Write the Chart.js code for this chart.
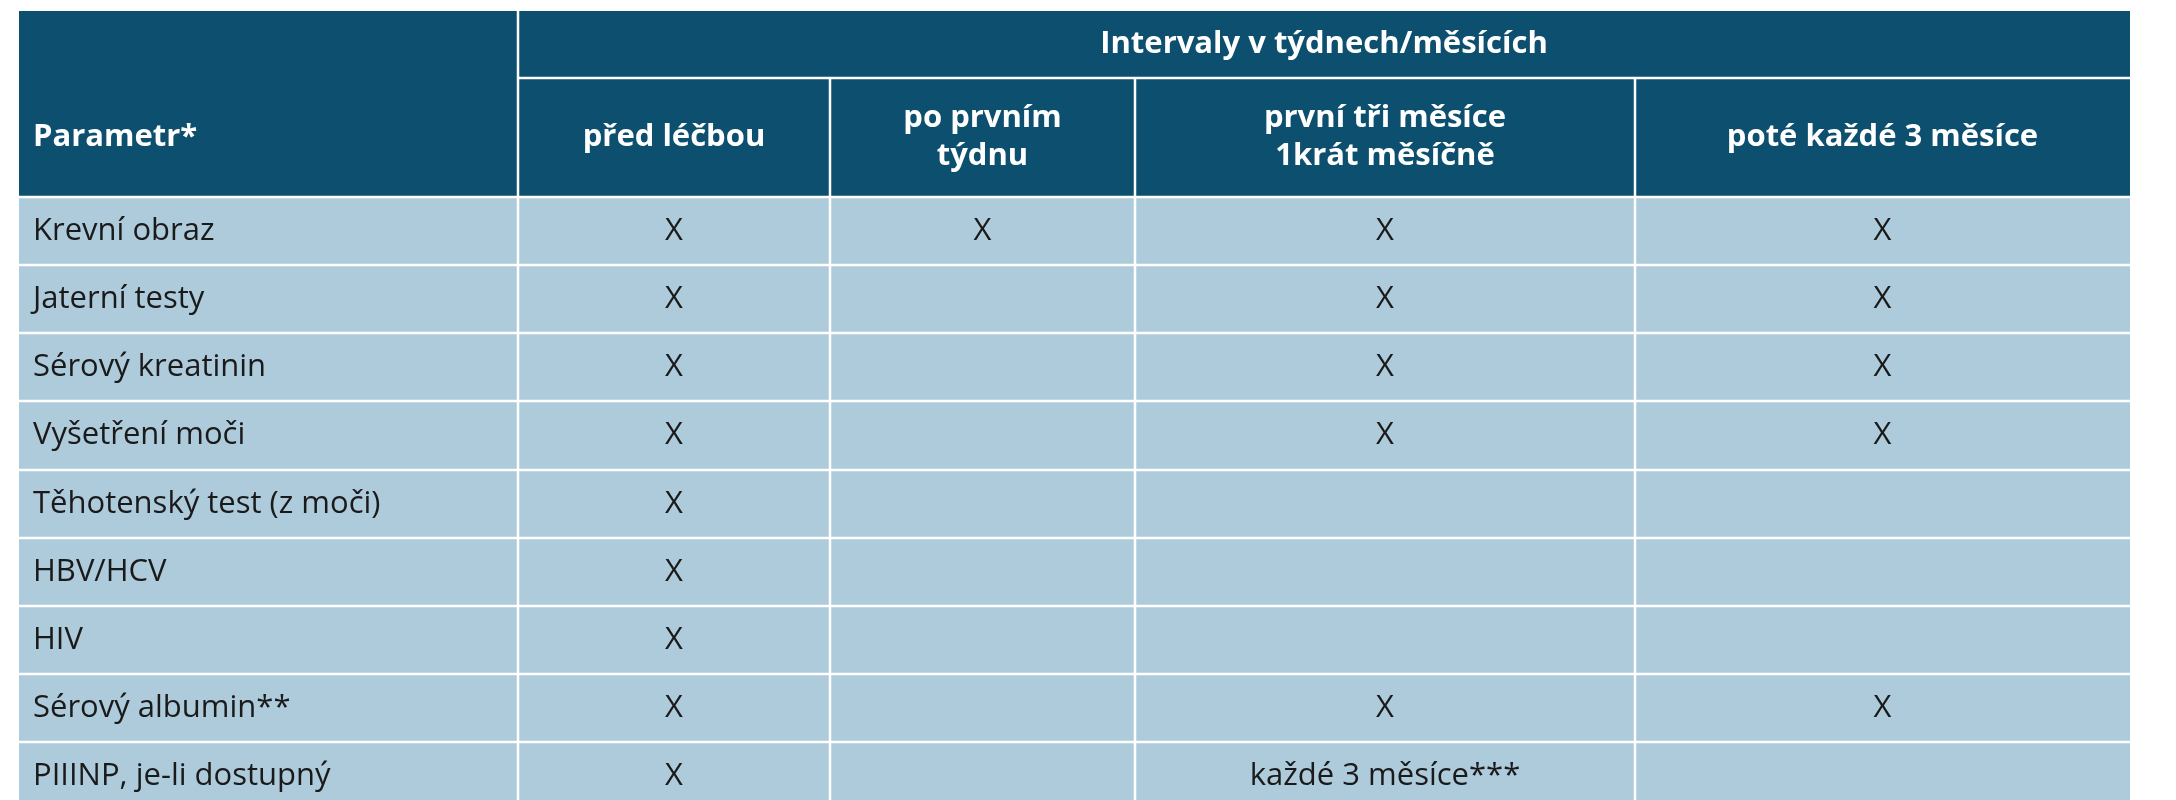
<!DOCTYPE html>
<html><head><meta charset="utf-8">
<script src="https://cdn.jsdelivr.net/npm/chart.js@4"></script>
<style>html,body{margin:0;padding:0;background:#fff;overflow:hidden}</style>
</head><body>
<canvas id="c" width="2176" height="800"></canvas>
<script>
const groupTitle = "Intervaly v týdnech/měsících";
const columnHeaders = ["Parametr*", "před léčbou", "po prvním\ntýdnu", "první tři měsíce\n1krát měsíčně", "poté každé 3 měsíce"];
const rowLabels = ["Krevní obraz","Jaterní testy","Sérový kreatinin","Vyšetření moči","Těhotenský test (z moči)","HBV/HCV","HIV","Sérový albumin**","PIIINP, je-li dostupný"];
const cellValues = [
  ["X","X","X","X"],
  ["X","","X","X"],
  ["X","","X","X"],
  ["X","","X","X"],
  ["X","","",""],
  ["X","","",""],
  ["X","","",""],
  ["X","","X","X"],
  ["X","","každé 3 měsíce***",""]
];
// layout (pixel-space units of the chart's scales)
const colEdges = [19, 518, 830, 1135, 1635, 2130];
const rowEdges = [11, 78, 197, 265, 333, 401, 470, 538, 606, 674, 742, 810];
const DARK = "#0d4f6e", LIGHT = "#aecbdc";

const tablePlugin = {
  id: "table",
  beforeDatasetsDraw(chart) {
    const ctx = chart.ctx, xs = chart.scales.x, ys = chart.scales.y;
    const X = v => xs.getPixelForValue(v), Y = v => ys.getPixelForValue(v);
    ctx.save();
    ctx.fillStyle = DARK;
    ctx.fillRect(X(colEdges[0]), Y(rowEdges[0]), X(colEdges[5]) - X(colEdges[0]), Y(rowEdges[2]) - Y(rowEdges[0]));
    ctx.fillStyle = LIGHT;
    ctx.fillRect(X(colEdges[0]), Y(rowEdges[2]), X(colEdges[5]) - X(colEdges[0]), Y(rowEdges[11]) - Y(rowEdges[2]));
    ctx.strokeStyle = "#ffffff"; ctx.lineWidth = 2.5;
    ctx.beginPath();
    ctx.moveTo(X(colEdges[1]), Y(rowEdges[0])); ctx.lineTo(X(colEdges[1]), Y(rowEdges[11]));
    for (let i = 2; i < 5; i++) { ctx.moveTo(X(colEdges[i]), Y(rowEdges[1])); ctx.lineTo(X(colEdges[i]), Y(rowEdges[11])); }
    ctx.moveTo(X(colEdges[1]), Y(rowEdges[1])); ctx.lineTo(X(colEdges[5]), Y(rowEdges[1]));
    for (let r = 2; r < 11; r++) { ctx.moveTo(X(colEdges[0]), Y(rowEdges[r])); ctx.lineTo(X(colEdges[5]), Y(rowEdges[r])); }
    ctx.stroke();
    ctx.fillStyle = "#fff"; ctx.textBaseline = "middle";
    ctx.font = "bold 31px 'Open Sans', sans-serif";
    ctx.textAlign = "center";
    ctx.fillText(groupTitle, (X(colEdges[1]) + X(colEdges[5])) / 2, (Y(rowEdges[0]) + Y(rowEdges[1])) / 2);
    columnHeaders.forEach((h, i) => {
      const lines = h.split("\n");
      const cy = (Y(rowEdges[1]) + Y(rowEdges[2])) / 2;
      const cx = i === 0 ? X(colEdges[0]) + 14 : (X(colEdges[i]) + X(colEdges[i + 1])) / 2;
      ctx.textAlign = i === 0 ? "left" : "center";
      lines.forEach((l, k) => ctx.fillText(l, cx, cy + (k - (lines.length - 1) / 2) * 38));
    });
    ctx.fillStyle = "#1a1a1a";
    ctx.font = "31px 'Open Sans', sans-serif";
    rowLabels.forEach((lab, r) => {
      const cy = (Y(rowEdges[r + 2]) + Y(rowEdges[r + 3])) / 2;
      ctx.textAlign = "left";
      ctx.fillText(lab, X(colEdges[0]) + 14, cy);
      ctx.textAlign = "center";
      cellValues[r].forEach((v, c) => {
        if (v) ctx.fillText(v, (X(colEdges[c + 1]) + X(colEdges[c + 2])) / 2, cy);
      });
    });
    ctx.restore();
  }
};

new Chart(document.getElementById("c"), {
  type: "scatter",
  data: { datasets: [{ data: [], pointRadius: 0 }] },
  options: {
    responsive: false, animation: false,
    layout: { padding: 0 },
    plugins: { legend: { display: false }, tooltip: { enabled: false } },
    scales: {
      x: { type: "linear", min: 0, max: 2176, display: false },
      y: { type: "linear", min: 0, max: 800, reverse: true, display: false }
    }
  },
  plugins: [tablePlugin]
});
</script>
</body></html>
